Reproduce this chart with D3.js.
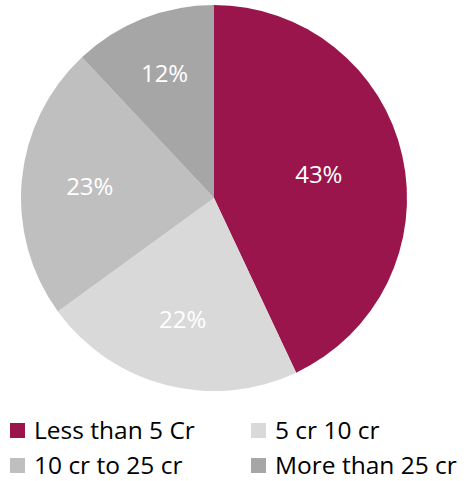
<!DOCTYPE html>
<html><head><meta charset="utf-8">
<script src="https://cdn.jsdelivr.net/npm/d3@7"></script>
<style>html,body{margin:0;padding:0;background:#fff;}svg{display:block;}</style>
</head><body>
<svg id="chart" width="469" height="481"></svg>
<script>
const categories = ["Less than 5 Cr", "5 cr 10 cr", "10 cr to 25 cr", "More than 25 cr"];
const values = [43, 22, 23, 12];
const colors = ["#99154C", "#D9D9D9", "#BFBFBF", "#A6A6A6"];

const svg = d3.select("#chart");
const cx = 214, cy = 198, R = 193;
const font = "'Open Sans', sans-serif";

const pie = d3.pie().sort(null).value(d => d)(values);
const total = d3.sum(values);
const arc = d3.arc().innerRadius(0).outerRadius(R);
// best-fit style: smaller slices get labels placed further out
const labelPos = d => {
  const r = R * (0.75 - 0.45 * d.data / total);
  return d3.arc().innerRadius(r).outerRadius(r).centroid(d);
};

const g = svg.append("g").attr("transform", `translate(${cx},${cy})`);
g.selectAll("path").data(pie).join("path")
  .attr("d", arc).attr("fill", (d, i) => colors[i]);

g.selectAll("text").data(pie).join("text")
  .attr("transform", d => `translate(${labelPos(d)})`)
  .attr("text-anchor", "middle").attr("dy", "0.36em")
  .attr("fill", "#fff").attr("font-family", font).attr("font-size", 24)
  .text(d => d.data + "%");

// legend
const legX = d3.scaleOrdinal().domain([0, 1]).range([10, 251]);
const legY = d3.scaleOrdinal().domain([0, 1]).range([423, 458]);
const leg = svg.append("g").selectAll("g").data(categories).join("g")
  .attr("transform", (d, i) => `translate(${legX(i % 2)},${legY(Math.floor(i / 2))})`);
leg.append("rect").attr("width", 15).attr("height", 15).attr("fill", (d, i) => colors[i]);
leg.append("text").attr("x", 24).attr("y", 16)
  .attr("font-family", font).attr("font-size", 24.5).attr("fill", "#000")
  .text(d => d);
</script>
</body></html>
